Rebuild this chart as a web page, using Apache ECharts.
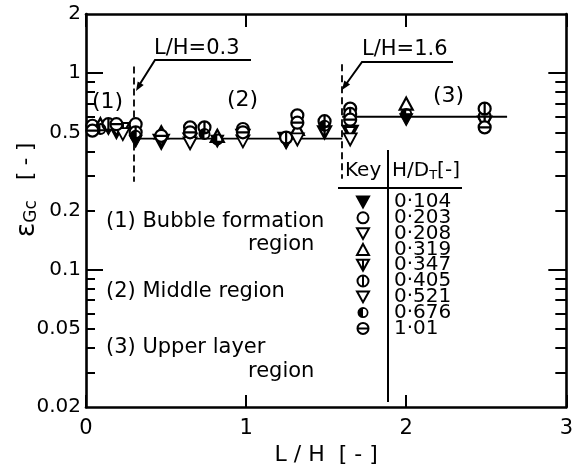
<!DOCTYPE html>
<html>
<head>
<meta charset="utf-8">
<script src="https://cdn.jsdelivr.net/npm/echarts@6/dist/echarts.min.js"></script>
<style>
html, body { margin: 0; padding: 0; background: #fff; }
#main { width: 576px; height: 471px; }
</style>
</head>
<body>
<div id="main"></div>
<script>
var FONT = 'DejaVu Sans';

// H/D_T keys
var keyNames = ['0·104', '0·203', '0·208', '0·319', '0·347', '0·405', '0·521', '0·676', '1·01'];

// [L/H, eps_Gc] per H/D_T
var d0104 = [[0.14, 0.52], [0.31, 0.45], [0.82, 0.45], [1.25, 0.44], [2.0, 0.58]];
var d0203 = [[0.04, 0.54], [0.31, 0.55], [0.65, 0.53], [0.98, 0.52], [1.32, 0.61], [1.65, 0.66], [2.49, 0.6]];
var d0208 = [[0.19, 0.51], [0.47, 0.45], [1.25, 0.46], [1.65, 0.5]];
var d0319 = [[0.09, 0.55], [0.47, 0.5], [0.82, 0.48], [1.32, 0.52], [2.0, 0.7]];
var d0347 = [[0.23, 0.52], [0.65, 0.46], [0.98, 0.48], [1.49, 0.5], [2.49, 0.56]];
var d0405 = [[0.14, 0.55], [0.31, 0.5], [0.74, 0.53], [1.25, 0.47], [1.49, 0.57], [1.65, 0.62], [2.49, 0.66]];
var d0521 = [[0.23, 0.49], [0.65, 0.44], [0.98, 0.45], [1.32, 0.46], [1.65, 0.46]];
var d0676 = [[0.09, 0.52], [0.31, 0.48], [0.74, 0.49], [0.82, 0.46], [1.49, 0.54], [2.0, 0.62]];
var d101 = [[0.04, 0.51], [0.19, 0.55], [0.47, 0.48], [0.65, 0.5], [0.98, 0.5], [1.32, 0.56], [1.65, 0.58], [2.49, 0.53]];

// mean lines of the three regions
var line1 = [[0, 0.53], [0.3, 0.53]];
var line2 = [[0.3, 0.465], [1.6, 0.465]];
var line3 = [[1.6, 0.6], [2.63, 0.6]];

// boundaries L/H = 0.3 and 1.6
var bound1 = [[0.3, 1.08], [0.3, 0.28]];
var bound2 = [[1.6, 1.11], [1.6, 0.29]];

// axis ticks
var yLabels = [0.02, 0.05, 0.1, 0.2, 0.5, 1, 2];
var yMajor = [0.1, 1];
var yMinor = [0.03, 0.04, 0.05, 0.06, 0.07, 0.08, 0.09, 0.2, 0.3, 0.4, 0.5, 0.6, 0.7, 0.8, 0.9];

// symbols
var triDown = 'path://M0,0L20,0L10,18Z';
var triDownBar = 'path://M0,0L20,0L10,18Z M10,0L10,18';
var circBarV = 'path://M10,0A10,10,0,1,1,10,20A10,10,0,1,1,10,0Z M10,0L10,20';
var circBarH = 'path://M10,0A10,10,0,1,1,10,20A10,10,0,1,1,10,0Z M0,10L20,10';
var circHalf = 'path://M10,0A10,10,0,0,0,10,20Z M10,0A10,10,0,0,1,10,20L10,16.8A6.8,6.8,0,0,0,10,3.2Z';

function pts(name, data, symbol, size, fill, bw) {
    return {
        name: name,
        type: 'scatter',
        data: data,
        symbol: symbol,
        symbolSize: size,
        z: 5,
        itemStyle: { color: fill, borderColor: '#000', borderWidth: bw, opacity: 1 }
    };
}

function meanLine(data, extra) {
    var s = {
        type: 'line',
        data: data,
        symbol: 'none',
        z: 2,
        lineStyle: { color: '#000', width: 1.8 }
    };
    if (extra) s.markLine = extra;
    return s;
}

function txt(x, y, s, size) {
    return {
        type: 'text', x: x, y: y,
        style: { text: s, fontFamily: FONT, fontSize: size || 21, fill: '#000', verticalAlign: 'middle' }
    };
}

var chart = echarts.init(document.getElementById('main'));

var tickStyle = { color: '#000', width: 2 };
var frame = { color: '#000', width: 2.6 };

var option = {
    animation: false,
    backgroundColor: '#fff',
    textStyle: { fontFamily: FONT, color: '#000' },
    grid: { left: 86, right: 9, top: 14, bottom: 56 },
    xAxis: [
        {
            type: 'value', min: 0, max: 3, interval: 1, position: 'bottom',
            name: 'L / H  [ - ]', nameLocation: 'middle', nameGap: 30,
            nameTextStyle: { fontFamily: FONT, fontSize: 22, color: '#000' },
            axisLine: { show: true, lineStyle: frame },
            axisTick: { show: true, inside: true, length: 12, lineStyle: tickStyle },
            axisLabel: { fontFamily: FONT, fontSize: 21, color: '#000', margin: 11 },
            splitLine: { show: false }
        },
        {
            type: 'value', min: 0, max: 3, interval: 1, position: 'top',
            axisLine: { show: true, lineStyle: frame },
            axisTick: { show: true, inside: true, length: 13, lineStyle: tickStyle },
            axisLabel: { show: false },
            splitLine: { show: false }
        }
    ],
    yAxis: [
        {
            type: 'log', logBase: 10, min: 0.02, max: 2, position: 'left',
            axisLine: { show: true, lineStyle: frame },
            axisTick: { show: true, inside: true, length: 17, lineStyle: tickStyle, customValues: yMajor },
            axisLabel: {
                fontFamily: FONT, fontSize: 20, color: '#000', margin: 5,
                customValues: yLabels,
                formatter: function (v) { return String(+(+v).toPrecision(3)); }
            },
            splitLine: { show: false }
        },
        {
            type: 'log', logBase: 10, min: 0.02, max: 2, position: 'left',
            axisLine: { show: false },
            axisTick: { show: true, inside: true, length: 9, lineStyle: tickStyle, customValues: yMinor },
            axisLabel: { show: false },
            splitLine: { show: false }
        },
        {
            type: 'log', logBase: 10, min: 0.02, max: 2, position: 'right',
            axisLine: { show: true, lineStyle: frame },
            axisTick: { show: true, inside: true, length: 18, lineStyle: tickStyle, customValues: yMajor },
            axisLabel: { show: false },
            splitLine: { show: false }
        },
        {
            type: 'log', logBase: 10, min: 0.02, max: 2, position: 'right',
            axisLine: { show: false },
            axisTick: { show: true, inside: true, length: 11, lineStyle: tickStyle, customValues: yMinor },
            axisLabel: { show: false },
            splitLine: { show: false }
        }
    ],
    legend: {
        data: keyNames,
        orient: 'vertical',
        left: 356,
        top: 192,
        padding: 0,
        itemWidth: 12,
        itemHeight: 11,
        itemGap: -4.2,
        selectedMode: false,
        formatter: function (n) { return '{t|' + n + '}'; },
        textStyle: {
            rich: { t: { fontFamily: FONT, fontSize: 20, color: '#000', padding: [0, 0, 0, 20], lineHeight: 15.7 } }
        }
    },
    series: [
        meanLine(line1),
        meanLine(line2, {
            silent: true,
            symbol: 'none',
            label: { show: false },
            lineStyle: { color: '#000', width: 1.8, type: [7, 4] },
            data: [
                [{ coord: bound1[0] }, { coord: bound1[1] }],
                [{ coord: bound2[0] }, { coord: bound2[1] }]
            ]
        }),
        meanLine(line3),
        pts(keyNames[0], d0104, triDown, [13, 12], '#000', 1),
        pts(keyNames[1], d0203, 'circle', 12, '#fff', 2.2),
        pts(keyNames[2], d0208, triDown, [13, 12], '#fff', 3.4),
        pts(keyNames[3], d0319, 'triangle', [13, 12], '#fff', 2.2),
        pts(keyNames[4], d0347, triDownBar, [13, 12], '#fff', 2.2),
        pts(keyNames[5], d0405, circBarV, 12, '#fff', 2.2),
        pts(keyNames[6], d0521, triDown, [13, 12], '#fff', 1.8),
        pts(keyNames[7], d0676, circHalf, 12, '#000', 0),
        pts(keyNames[8], d101, circBarH, 12, '#fff', 2.2)
    ],
    graphic: [
        // y axis title
        {
            type: 'text', x: 27, y: 190, rotation: Math.PI / 2,
            style: {
                text: '{e|ε}{s|Gc}   {b|[ - ]}',
                align: 'center', verticalAlign: 'middle',
                fill: '#000',
                rich: {
                    e: { fontFamily: FONT, fontSize: 27, fill: '#000' },
                    s: { fontFamily: FONT, fontSize: 17, fill: '#000', padding: [10, 0, 0, 0] },
                    b: { fontFamily: FONT, fontSize: 21, fill: '#000' }
                },
                fontFamily: FONT, fontSize: 21
            }
        },
        // region numbers
        txt(92, 102, '(1)', 22),
        txt(227, 100, '(2)', 22),
        txt(433, 96, '(3)', 22),
        // boundary labels with leaders
        txt(154, 49, 'L/H=0.3', 21),
        { type: 'polyline', shape: { points: [[251, 60], [155, 60], [138, 87]] }, style: { stroke: '#000', lineWidth: 2, fill: null } },
        { type: 'polygon', shape: { points: [[136, 91], [143.7, 85.1], [137.7, 81.5]] }, style: { fill: '#000' } },
        txt(362, 50, 'L/H=1.6', 21),
        { type: 'polyline', shape: { points: [[453, 62], [362, 62], [344, 87]] }, style: { stroke: '#000', lineWidth: 2, fill: null } },
        { type: 'polygon', shape: { points: [[342, 90], [350.1, 84.6], [344.3, 80.6]] }, style: { fill: '#000' } },
        // region descriptions
        txt(106, 222, '(1) Bubble formation'),
        txt(248, 245, 'region'),
        txt(106, 292, '(2) Middle region'),
        txt(106, 348, '(3) Upper layer'),
        txt(248, 372, 'region'),
        // key table
        txt(345, 171, 'Key', 20),
        {
            type: 'text', x: 392, y: 171,
            style: {
                text: '{n|H/D}{s|T}{n|[-]}', verticalAlign: 'middle', fill: '#000',
                rich: {
                    n: { fontFamily: FONT, fontSize: 20, fill: '#000' },
                    s: { fontFamily: FONT, fontSize: 13, fill: '#000', padding: [10, 0, 0, 0] }
                }
            }
        },
        { type: 'line', shape: { x1: 388, y1: 150, x2: 388, y2: 402 }, style: { stroke: '#000', lineWidth: 2 } },
        { type: 'line', shape: { x1: 338, y1: 188, x2: 462, y2: 188 }, style: { stroke: '#000', lineWidth: 2 } }
    ]
};

chart.setOption(option);
window.onresize = function () {
    chart.resize();
};
</script>
</body>
</html>
